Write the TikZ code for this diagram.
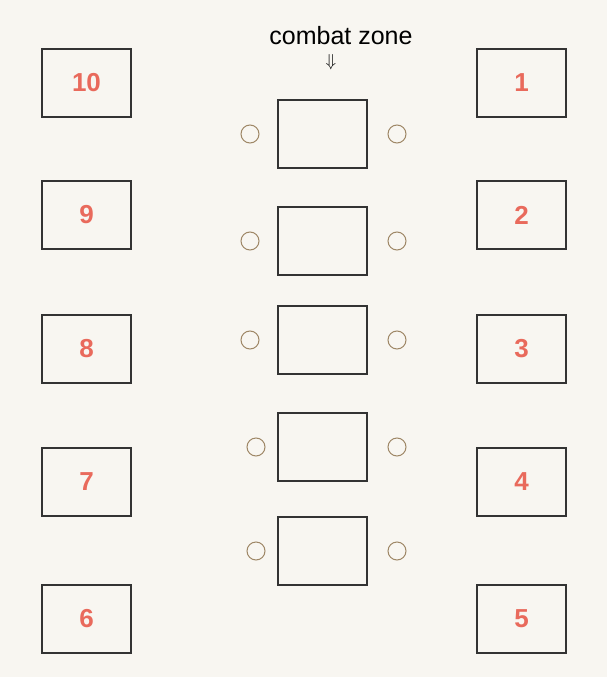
\documentclass[tikz,border=0pt]{standalone}
\usepackage{fontspec}
\setmainfont{Liberation Sans}
\usepackage{xcolor}
\usetikzlibrary{positioning}
\definecolor{Paper}{HTML}{F8F6F1}
\definecolor{Ink}{HTML}{333333}
\definecolor{Coral}{HTML}{E96A5C}
\definecolor{Ring}{HTML}{9E8766}
\tikzset{
  seat/.style={draw=Ink,line width=1.2pt,minimum width=89pt,minimum height=68pt,inner sep=0pt,font=\fontsize{26}{26}\selectfont\bfseries,text=Coral},
  arena/.style={draw=Ink,line width=1.2pt,minimum width=89pt,minimum height=68pt,inner sep=0pt},
  ring/.style={draw=Ring,line width=1pt,circle,minimum size=18pt,inner sep=0pt}
}

\begin{document}
\begin{tikzpicture}[x=1pt,y=-1pt]
  \fill[Paper] (0,0) rectangle (607,677);
  \useasboundingbox (0,0) rectangle (607,677);
  % outer seats, left column counts down, right column counts up
  \foreach \n/\y in {10/83,9/215,8/349,7/482,6/619}
    \node[seat] (s\n) at (86.5,\y) {\n};
  \foreach \n/\y in {1/83,2/215,3/349,4/482,5/619}
    \node[seat] (s\n) at (521.5,\y) {\n};
  % the middle column
  \foreach \i/\y/\lx in {1/134/250,2/241/250,3/340/250,4/447/256,5/551/256}{
    \node[arena] (c\i) at (322.5,\y) {};
    \node[ring] (l\i) at (\lx,\y) {};
    \node[ring] (r\i) at (397,\y) {};
  }
  \node[font=\fontsize{25}{25}\selectfont,text=black] (title) at (341,36) {combat zone};
  \node[font=\fontsize{18}{18}\selectfont,inner sep=0pt] (mark) at (331,62) {$\Downarrow$};
\end{tikzpicture}
\end{document}
